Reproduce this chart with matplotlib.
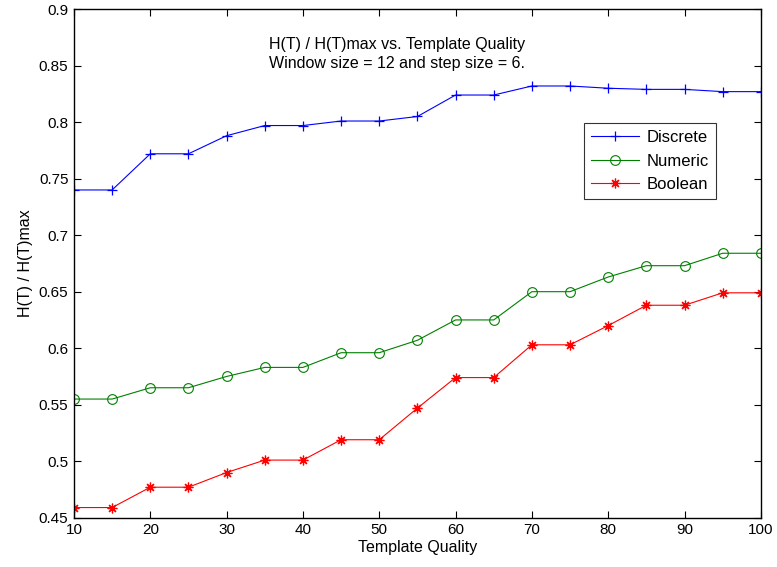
import matplotlib
matplotlib.use("Agg")
import matplotlib.pyplot as plt
from matplotlib.ticker import FuncFormatter

plt.rcParams['font.family'] = ['Liberation Sans', 'DejaVu Sans']

# template quality levels
quality = [10, 15, 20, 25, 30, 35, 40, 45, 50, 55, 60, 65, 70, 75, 80, 85, 90, 95, 100]

# normalised entropy H(T)/H(T)max per encoding
discrete = [0.740, 0.740, 0.772, 0.772, 0.788, 0.797, 0.797, 0.801, 0.801, 0.805,
            0.824, 0.824, 0.832, 0.832, 0.830, 0.829, 0.829, 0.827, 0.827]
numeric = [0.555, 0.555, 0.565, 0.565, 0.575, 0.583, 0.583, 0.596, 0.596, 0.607,
           0.625, 0.625, 0.650, 0.650, 0.663, 0.673, 0.673, 0.684, 0.684]
boolean = [0.459, 0.459, 0.477, 0.477, 0.490, 0.501, 0.501, 0.519, 0.519, 0.547,
           0.574, 0.574, 0.603, 0.603, 0.620, 0.638, 0.638, 0.649, 0.649]

xticks = [10, 20, 30, 40, 50, 60, 70, 80, 90, 100]
yticks = [0.45, 0.5, 0.55, 0.6, 0.65, 0.7, 0.75, 0.8, 0.85, 0.9]

fig = plt.figure(figsize=(7.77, 5.67), dpi=100)
ax = fig.add_axes([0.0952, 0.0869, 0.884, 0.897])

# matlab-style '*' is a plus and a cross on top of each other
asterisk = (8, 2, 0)

ax.plot(quality, discrete, color='#0000ff', marker='+', markersize=7.5, lw=0.8,
        markeredgewidth=0.9, label='Discrete')
ax.plot(quality, numeric, color='#008000', marker='o', markersize=7, lw=0.8,
        markerfacecolor='none', markeredgewidth=0.8, label='Numeric')
ax.plot(quality, boolean, color='#ff0000', marker=asterisk, markersize=7, lw=0.8,
        markeredgewidth=0.9, label='Boolean')

ax.set_xlim(10, 100)
ax.set_ylim(0.45, 0.9)
ax.set_xticks(xticks)
ax.set_yticks(yticks)
ax.yaxis.set_major_formatter(FuncFormatter(lambda v, p: '%g' % v))
ax.tick_params(direction='in', top=True, right=True, length=5, width=0.8,
               labelsize=11, pad=4)
for s in ax.spines.values():
    s.set_linewidth(1.0)

ax.set_xlabel('Template Quality', fontsize=11.5, labelpad=2)
ax.set_ylabel('H(T) / H(T)max', fontsize=11.5, labelpad=4)

ax.text(0.470, 0.946, 'H(T) / H(T)max vs. Template Quality\nWindow size = 12 and step size = 6.',
        transform=ax.transAxes, ha='center', va='top', fontsize=11.5,
        linespacing=1.4)

leg = ax.legend(loc='upper left', bbox_to_anchor=(0.742, 0.7765), fontsize=12,
                frameon=True, fancybox=False, edgecolor='black',
                handlelength=2.9, borderpad=0.45, labelspacing=0.5,
                handletextpad=0.4, borderaxespad=0)
leg.get_frame().set_linewidth(0.8)

fig.savefig('out.png', dpi=100)
